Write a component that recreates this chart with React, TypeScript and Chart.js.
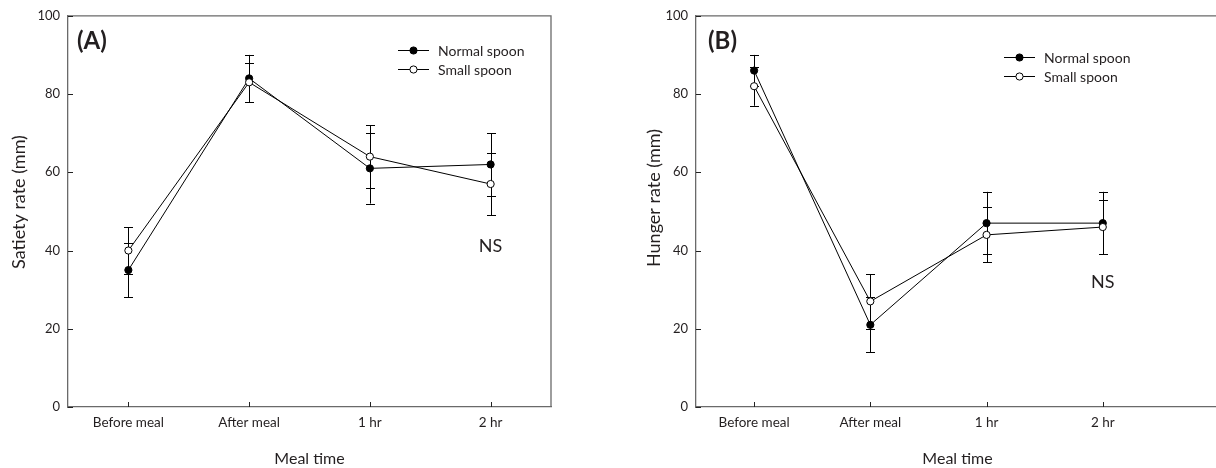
import React, { useEffect, useRef } from 'react';
import { Chart, registerables } from 'chart.js';

Chart.register(...registerables);

// ---------- data ----------
const categories = ['Before meal', 'After meal', '1 hr', '2 hr'];
const yTickValues = [0, 20, 40, 60, 80, 100];
const seriesNames = ['Normal spoon', 'Small spoon'];

const satietyNormal = [35, 84, 61, 62];
const satietyNormalErr = [7, 6, 9, 8];
const satietySmall = [40, 83, 64, 57];
const satietySmallErr = [6, 5, 8, 8];

const hungerNormal = [86, 21, 47, 47];
const hungerNormalErr = [4, 7, 8, 8];
const hungerSmall = [82, 27, 44, 46];
const hungerSmallErr = [5, 7, 7, 7];

const FONT = 'Lato, "Open Sans", sans-serif';
const TEXT = '#231f20';
const FRAME = '#6a6a6a';

const framePlugin = {
  id: 'frame',
  beforeDatasetsDraw(chart: any) {
    const ctx = chart.ctx;
    const xs = chart.scales.x;
    const ys = chart.scales.y;
    ctx.save();
    ctx.strokeStyle = '#000';
    ctx.lineWidth = 1;
    chart.data.datasets.forEach((ds: any) => {
      const errs: number[] = ds.errors || [];
      ds.data.forEach((p: any, i: number) => {
        const e = errs[i];
        if (e == null) return;
        const x = Math.round(xs.getPixelForValue(p.x)) + 0.5;
        const y1 = ys.getPixelForValue(p.y + e);
        const y2 = ys.getPixelForValue(p.y - e);
        ctx.beginPath();
        ctx.moveTo(x, y1);
        ctx.lineTo(x, y2);
        ctx.moveTo(x - 4.5, Math.round(y1) + 0.5);
        ctx.lineTo(x + 4.5, Math.round(y1) + 0.5);
        ctx.moveTo(x - 4.5, Math.round(y2) + 0.5);
        ctx.lineTo(x + 4.5, Math.round(y2) + 0.5);
        ctx.stroke();
      });
    });
    ctx.restore();
  },
  afterDraw(chart: any, _args: any, opts: any) {
    const ctx = chart.ctx;
    const { left, right, top, bottom } = chart.chartArea;
    const xs = chart.scales.x;
    const ys = chart.scales.y;
    ctx.save();
    // top and right frame
    ctx.strokeStyle = FRAME;
    ctx.lineWidth = 1.3;
    ctx.beginPath();
    ctx.moveTo(left, top);
    ctx.lineTo(right, top);
    ctx.lineTo(right, bottom);
    ctx.stroke();
    // inward ticks
    ctx.strokeStyle = '#222';
    ctx.lineWidth = 1;
    ctx.beginPath();
    ys.ticks.forEach((t: any) => {
      const y = Math.round(ys.getPixelForValue(t.value)) + 0.5;
      ctx.moveTo(left, y);
      ctx.lineTo(left + 5, y);
    });
    xs.ticks.forEach((t: any) => {
      const x = Math.round(xs.getPixelForValue(t.value)) + 0.5;
      ctx.moveTo(x, bottom);
      ctx.lineTo(x, bottom - 5);
    });
    ctx.stroke();

    // y title
    ctx.fillStyle = TEXT;
    ctx.save();
    ctx.translate(opts.yTitleX, opts.yTitleY);
    ctx.rotate(-Math.PI / 2);
    ctx.font = `18px ${FONT}`;
    ctx.textAlign = 'center';
    ctx.textBaseline = 'middle';
    ctx.fillText(opts.yTitle, 0, 0);
    ctx.restore();

    // panel label
    ctx.font = `bold 24px ${FONT}`;
    ctx.textAlign = 'left';
    ctx.textBaseline = 'middle';
    ctx.fillText(opts.label, left + opts.labelDx, top + opts.labelDy);

    // NS annotation (data coordinates)
    ctx.font = `18px ${FONT}`;
    ctx.textAlign = 'center';
    ctx.fillText('NS', xs.getPixelForValue(opts.nsX), ys.getPixelForValue(opts.nsY));

    // legend
    ctx.font = `14px ${FONT}`;
    ctx.textAlign = 'left';
    chart.data.datasets
      .slice()
      .sort((a: any, b: any) => a.legendIndex - b.legendIndex)
      .forEach((ds: any, i: number) => {
        const lx = left + opts.legendX;
        const ly = Math.round(top + opts.legendY + i * 19) + 0.5;
        ctx.strokeStyle = '#000';
        ctx.lineWidth = 1;
        ctx.beginPath();
        ctx.moveTo(lx, ly);
        ctx.lineTo(lx + 31, ly);
        ctx.stroke();
        ctx.beginPath();
        ctx.arc(lx + 15.5, ly, 3.6, 0, Math.PI * 2);
        ctx.fillStyle = ds.pointBackgroundColor;
        ctx.fill();
        ctx.stroke();
        ctx.fillStyle = TEXT;
        ctx.fillText(ds.label, lx + 40, ly + 1);
      });
    ctx.restore();
  },
};

type Panel = {
  normal: number[];
  normalErr: number[];
  small: number[];
  smallErr: number[];
  yTitle: string;
  label: string;
  nsY: number;
  width: number;
  yWidth: number;
  padRight: number;
  xMax: number;
  yTitleX: number;
  yTitleY: number;
  labelDx: number;
  labelDy: number;
  legendX: number;
  legendY: number;
};

const toPts = (vals: number[]) => vals.map((v, i) => ({ x: i, y: v }));

function makeConfig(p: Panel): any {
  const tickFont = { family: FONT, size: 13.5 };
  return {
    type: 'line',
    data: {
      datasets: [
        {
          label: seriesNames[0],
          data: toPts(p.normal),
          errors: p.normalErr,
          legendIndex: 0,
          order: 1,
          borderColor: '#000',
          borderWidth: 1,
          pointRadius: 3.6,
          pointBorderWidth: 1,
          pointBackgroundColor: '#000',
          pointBorderColor: '#000',
          fill: false,
          tension: 0,
        },
        {
          label: seriesNames[1],
          data: toPts(p.small),
          errors: p.smallErr,
          legendIndex: 1,
          order: 0,
          borderColor: '#000',
          borderWidth: 1,
          pointRadius: 3.6,
          pointBorderWidth: 1,
          pointBackgroundColor: '#fff',
          pointBorderColor: '#000',
          fill: false,
          tension: 0,
        },
      ],
    },
    options: {
      animation: false,
      responsive: false,
      maintainAspectRatio: false,
      events: [],
      layout: { padding: { top: 15, right: p.padRight, bottom: 0, left: 0 } },
      plugins: {
        legend: { display: false },
        tooltip: { enabled: false },
        frame: {
          yTitle: p.yTitle,
          label: p.label,
          nsX: 3,
          nsY: p.nsY,
          yTitleX: p.yTitleX,
          yTitleY: p.yTitleY,
          labelDx: p.labelDx,
          labelDy: p.labelDy,
          legendX: p.legendX,
          legendY: p.legendY,
        },
      },
      scales: {
        x: {
          type: 'linear',
          min: -0.5,
          max: p.xMax,
          afterBuildTicks: (s: any) => {
            s.ticks = categories.map((_, i) => ({ value: i }));
          },
          afterFit: (s: any) => {
            s.height = 61;
          },
          ticks: {
            callback: (v: any) => categories[v] ?? '',
            font: tickFont,
            color: TEXT,
            padding: 8,
            maxRotation: 0,
            autoSkip: false,
          },
          grid: { display: false, drawTicks: false },
          border: { display: true, color: FRAME, width: 1.3 },
          title: {
            display: true,
            text: 'Meal time',
            font: { family: FONT, size: 16 },
            color: TEXT,
            padding: { top: 0, bottom: 0 },
          },
        },
        y: {
          type: 'linear',
          min: 0,
          max: 100,
          afterBuildTicks: (s: any) => {
            s.ticks = yTickValues.map((v) => ({ value: v }));
          },
          afterFit: (s: any) => {
            s.width = p.yWidth;
          },
          ticks: { font: { family: FONT, size: 13 }, color: TEXT, padding: 8 },
          grid: { display: false, drawTicks: false },
          border: { display: true, color: FRAME, width: 1.3 },
          title: { display: false },
        },
      },
    },
    plugins: [framePlugin],
  };
}

function ChartCanvas({ panel, left }: { panel: Panel; left: number }) {
  const ref = useRef<HTMLCanvasElement>(null);
  useEffect(() => {
    if (!ref.current) return;
    const chart = new Chart(ref.current, makeConfig(panel));
    return () => chart.destroy();
  }, [panel]);
  return (
    <canvas
      ref={ref}
      width={panel.width}
      height={468}
      style={{ position: 'absolute', left, top: 0, width: panel.width, height: 468 }}
    />
  );
}

const panelA: Panel = {
  normal: satietyNormal,
  normalErr: satietyNormalErr,
  small: satietySmall,
  smallErr: satietySmallErr,
  yTitle: 'Satiety rate (mm)',
  label: '(A)',
  nsY: 41,
  width: 600,
  yWidth: 68,
  padRight: 49,
  xMax: 3.5,
  yTitleX: 19,
  yTitleY: 202,
  labelDx: 9,
  labelDy: 25,
  legendX: 330,
  legendY: 34,
};

const panelB: Panel = {
  normal: hungerNormal,
  normalErr: hungerNormalErr,
  small: hungerSmall,
  smallErr: hungerSmallErr,
  yTitle: 'Hunger rate (mm)',
  label: '(B)',
  nsY: 32,
  width: 624,
  yWidth: 96,
  padRight: 0,
  xMax: 4.0,
  yTitleX: 54,
  yTitleY: 198,
  labelDx: 12,
  labelDy: 25,
  legendX: 308,
  legendY: 41,
};

export default function App() {
  return (
    <div
      style={{
        position: 'fixed',
        left: 0,
        top: 0,
        width: 1216,
        height: 468,
        overflow: 'hidden',
        background: '#fff',
      }}
    >
      <ChartCanvas panel={panelA} left={0} />
      <ChartCanvas panel={panelB} left={600} />
    </div>
  );
}
